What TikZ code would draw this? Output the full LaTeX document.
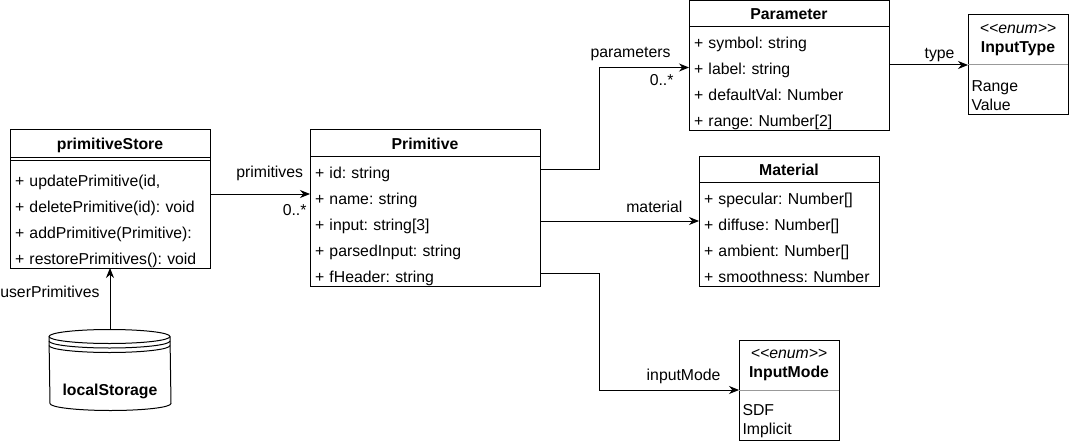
\documentclass[tikz,border=0pt]{standalone}
\usepackage{fontspec}
\setmainfont{Liberation Sans}
\usepackage{tikz}
\usetikzlibrary{positioning}
\usetikzlibrary{arrows.meta}
\frenchspacing
\definecolor{divgray}{gray}{0.6}
\newcommand{\rs}{\rule[-4pt]{0pt}{26pt}}% one attribute row
\tikzset{
  ctitle/.style = {draw, inner sep=0pt, outer sep=0pt, minimum height=26pt,
    text height=12pt, text depth=0pt, font=\fontsize{15.8}{19}\selectfont\bfseries},
  cbody/.style = {draw, inner xsep=5pt, inner ysep=0pt, outer sep=0pt, align=left,
    font=\fontsize{15.8}{26}\selectfont},
  enumbox/.style = {draw, minimum width=100pt, minimum height=100pt, inner sep=0pt, outer sep=0pt},
  enumtext/.style = {inner sep=0pt, font=\fontsize{15.8}{19}\selectfont},
  lbl/.style = {anchor=base east, inner sep=0pt, font=\fontsize{15.8}{19}\selectfont},
  assoc/.style = {-{Stealth[length=10pt,width=8pt]}},
}

\begin{document}
\begin{tikzpicture}[x=1pt, y=-1pt, line width=1pt]
\useasboundingbox (0,0) rectangle (1070,441);

% store with its methods
\node (pstoreT) [ctitle, minimum width=200pt, minimum height=27pt, anchor=north] at (110,130) {primitiveStore};
\node (pstore) [cbody, draw=none, text width=190pt, below=7pt of pstoreT] {\rs + updatePrimitive(id,\\ \rs + deletePrimitive(id): void\\ \rs + addPrimitive(Primitive):\\ \rs + restorePrimitives(): void};
\draw (pstoreT.north west) rectangle (pstore.south east);
\draw ([yshift=-3.5pt]pstoreT.south west) -- ([yshift=-3.5pt]pstoreT.south east);

\node (primT) [ctitle, minimum width=230pt, anchor=north] at (425,130) {Primitive};
\node (prim) [cbody, text width=220pt, below=0pt of primT] {\rs + id: string\\ \rs + name: string\\ \rs + input: string[3]\\ \rs + parsedInput: string\\ \rs + fHeader: string};

\node (paramT) [ctitle, minimum width=200pt, minimum height=25.5pt, anchor=north] at (789,1) {Parameter};
\node (param) [cbody, text width=190pt, below=0pt of paramT] {\rs + symbol: string\\ \rs + label: string\\ \rs + defaultVal: Number\\ \rs + range: Number[2]};

\node (matT) [ctitle, minimum width=180pt, anchor=north] at (789,156) {Material};
\node (mat) [cbody, text width=170pt, below=0pt of matT] {\rs + specular: Number[]\\ \rs + diffuse: Number[]\\ \rs + ambient: Number[]\\ \rs + smoothness: Number};

% enums
\node (itype) [enumbox] at (1018,65) {};
\node (itypeH) [enumtext, align=center, below=4.7pt of itype.north] {\strut\textit{<\kern0pt<enum>\kern0pt>}\\\strut\textbf{InputType}};
\node (itypeV) [enumtext, align=left, below right=13pt and 3pt of itype.west] {\strut Range\\\strut Value};
\draw[divgray] (itype.west) -- (itype.east);

\node (imode) [enumbox] at (789,390) {};
\node (imodeH) [enumtext, align=center, below=4.7pt of imode.north] {\strut\textit{<\kern0pt<enum>\kern0pt>}\\\strut\textbf{InputMode}};
\node (imodeV) [enumtext, align=left, below right=12pt and 3pt of imode.west] {\strut SDF\\\strut Implicit};
\draw[divgray] (imode.west) -- (imode.east);

% data store
\node (lstore) [font=\fontsize{15.8}{19}\selectfont\bfseries, minimum width=121pt, minimum height=80pt,
  inner sep=0pt, text height=50pt, text depth=0pt] at (110,370) {localStorage};
\draw ([yshift=-7pt]lstore.north west) arc[start angle=180, end angle=0, x radius=60.5pt, y radius=7pt]
  -- ([yshift=7pt]lstore.south east) arc[start angle=0, end angle=-180, x radius=60.5pt, y radius=7pt] -- cycle;
\foreach \dy in {7,11.5,16}
  \draw ([yshift=-\dy pt]lstore.north west) arc[start angle=180, end angle=360, x radius=60.5pt, y radius=7pt];

% associations
\coordinate (a1) at ([yshift=-38pt]primT.south west);
\draw[assoc] (a1 -| pstore.east) -- (a1) node[lbl, xshift=-6.5pt, yshift=17pt] {primitives}
  node[lbl, xshift=-3pt, yshift=-21pt] {0..*};
\draw[assoc] (lstore.north) node[lbl, xshift=-10pt, yshift=31.7pt] {userPrimitives} -- (pstore.south);

\coordinate (a3) at ([yshift=-41pt]paramT.south west);
\draw[assoc] ([yshift=-13pt]primT.south east) -- ++(59,0) |- (a3) node[lbl, xshift=-18pt, yshift=10pt] {parameters}
  node[lbl, xshift=-15pt, yshift=-18pt] {0..*};
\coordinate (a4) at ([yshift=-39pt]matT.south west);
\draw[assoc] (a4 -| prim.east) -- (a4) node[lbl, xshift=-16pt, yshift=8.3pt] {material};
\draw[assoc] ([yshift=-117pt]primT.south east) -- ++(59,0) |- (imode.west) node[lbl, xshift=-18pt, yshift=10pt] {inputMode};
\draw[assoc] (itype.west -| param.east) -- (itype.west) node[lbl, xshift=-13pt, yshift=6.7pt] {type};
\end{tikzpicture}
\end{document}
